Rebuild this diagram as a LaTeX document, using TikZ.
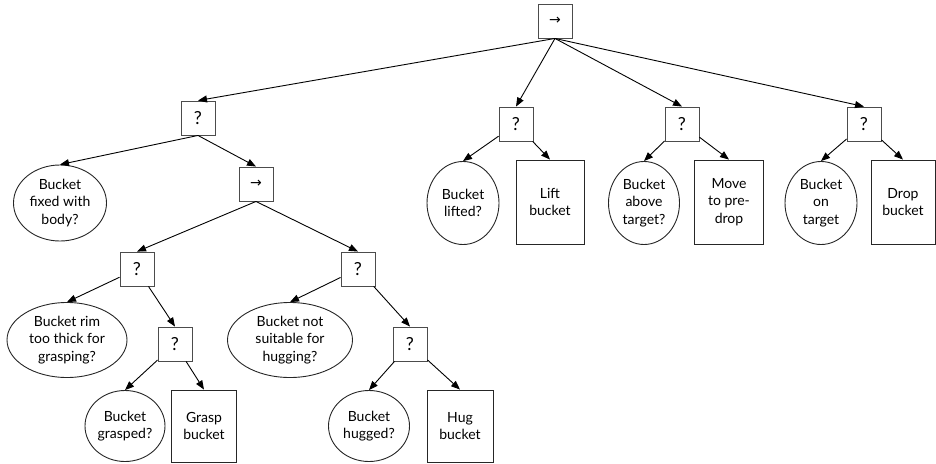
\documentclass[tikz,border=0pt]{standalone}
\usepackage{fontspec}
\setmainfont{Lato}
\newfontfamily\symfont{DejaVu Sans}
\usetikzlibrary{arrows.meta,shapes.geometric}
\begin{document}
\begin{tikzpicture}[x=1pt,y=-1pt,
 every node/.style={font=\fontsize{14}{17.5}\selectfont, align=center, inner sep=0pt, line width=0.9pt},
 ctrl/.style={draw=black!70, minimum width=34pt, minimum height=34pt},
 sel/.style={ctrl, font=\fontsize{18}{18}\selectfont},
 seqn/.style={ctrl, font=\symfont\fontsize{14}{14}\selectfont},
 cond/.style={draw=black!85, ellipse},
 act/.style={draw=black!85, rectangle},
 edge/.style={-{Triangle[length=9pt,width=7pt]}, line width=0.9pt}]
\useasboundingbox (0,0) rectangle (936,463);
% control nodes
\node[seqn] (root) at (555,21) {→};
\node[sel] (q1) at (198,118) {?};
\node[seqn] (seq2) at (256,184) {→};
\node[sel] (qg) at (137,269) {?};
\node[sel] (qg2) at (175,344) {?};
\node[sel] (qh) at (358,269) {?};
\node[sel] (qh2) at (410,344) {?};
\node[sel] (ql) at (516,124) {?};
\node[sel] (qa) at (682,124) {?};
\node[sel] (qo) at (864,124) {?};
% conditions
\node[cond, minimum width=93pt, minimum height=76pt] (cfix) at (60,203) {Bucket\\fixed with\\body?};
\node[cond, minimum width=120pt, minimum height=75pt] (crim) at (67,340) {Bucket rim\\too thick for\\grasping?};
\node[cond, minimum width=80pt, minimum height=71pt] (cgr) at (125,426) {Bucket\\grasped?};
\node[cond, minimum width=125pt, minimum height=75pt] (cns) at (290,340) {Bucket not\\suitable for\\hugging?};
\node[cond, minimum width=81pt, minimum height=71pt] (chg) at (369,426) {Bucket\\hugged?};
\node[cond, minimum width=72pt, minimum height=83pt] (clf) at (463,203) {Bucket\\lifted?};
\node[cond, minimum width=71pt, minimum height=83pt] (cab) at (644,203) {Bucket\\above\\target?};
\node[cond, minimum width=72pt, minimum height=83pt] (con) at (821,203) {Bucket\\on\\target};
% actions
\node[act, minimum width=65pt, minimum height=72pt] (agr) at (204,426) {Grasp\\bucket};
\node[act, minimum width=66pt, minimum height=72pt] (ahg) at (460,426) {Hug\\bucket};
\node[act, minimum width=68pt, minimum height=84pt] (alf) at (550,202) {Lift\\bucket};
\node[act, minimum width=69pt, minimum height=84pt] (amv) at (729,202) {Move\\to pre-\\drop};
\node[act, minimum width=64pt, minimum height=84pt] (adr) at (903,202) {Drop\\bucket};
% edges
\draw[edge] (root.south) -- (q1.north);
\draw[edge] (root.south) -- (ql.north);
\draw[edge] (root.south) -- (qa.north);
\draw[edge] (root.south) -- (qo.north);
\draw[edge] (q1.south) -- (cfix.north);
\draw[edge] (q1.south) -- (seq2.north);
\draw[edge] (seq2.south) -- (qg.north);
\draw[edge] (seq2.south) -- (qh.north);
\draw[edge] (qg) -- (crim.north);
\draw[edge] (qg) -- (qg2.north);
\draw[edge] (qg2) -- (cgr.north);
\draw[edge] (qg2) -- (agr.north);
\draw[edge] (qh) -- (cns.north);
\draw[edge] (qh) -- (qh2.north);
\draw[edge] (qh2) -- (chg.north);
\draw[edge] (qh2) -- (ahg.north);
\draw[edge] (ql) -- (clf.north);
\draw[edge] (ql) -- (alf.north);
\draw[edge] (qa) -- (cab.north);
\draw[edge] (qa) -- (amv.north);
\draw[edge] (qo) -- (con.north);
\draw[edge] (qo) -- (adr.north);
\end{tikzpicture}
\end{document}
